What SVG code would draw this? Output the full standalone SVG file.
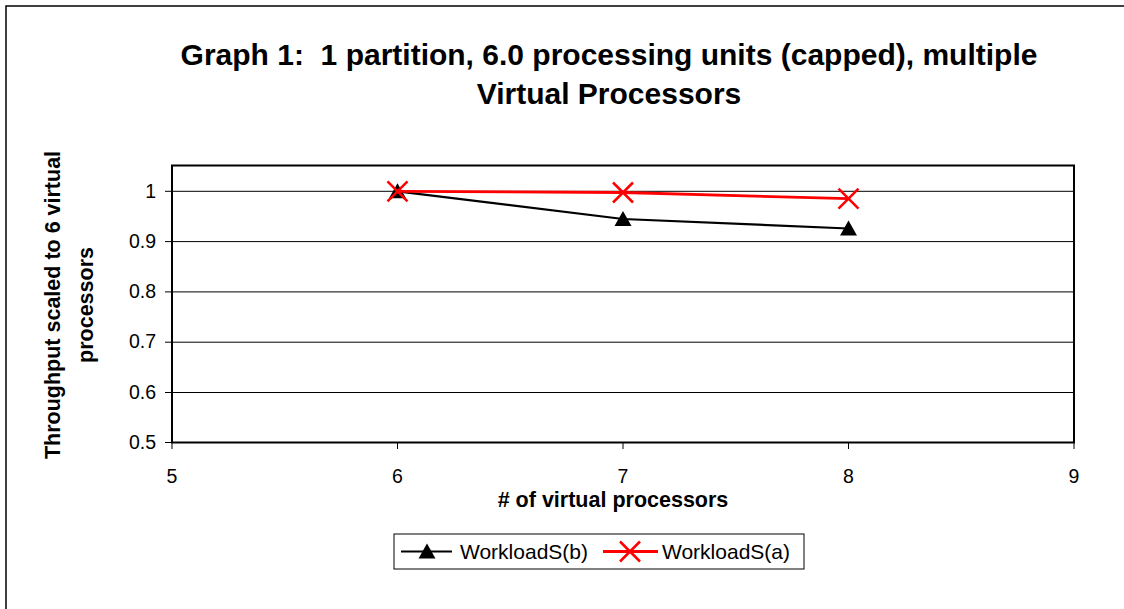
<svg xmlns="http://www.w3.org/2000/svg" width="1124" height="609" viewBox="0 0 1124 609">
<style>
text{font-family:"Liberation Sans",Arial,sans-serif;fill:#000}
.title{font-size:30px;font-weight:bold}
.axl{font-size:21.5px;font-weight:bold}
.tick{font-size:19.5px}
.leg{font-size:21px}
.grid{stroke:#000;stroke-width:1}
.blk{stroke:#000;stroke-width:2.2;fill:none}
.red{stroke:#ff0000;stroke-width:2.8;fill:none}
</style>
<defs>
<path id="tri" d="M0,-8 L8.5,7 L-8.5,7 Z" fill="#000"/>
<path id="xm" d="M-10,-10 L10,10 M-10,10 L10,-10" stroke="#ff0000" stroke-width="2.5" fill="none"/>
</defs>
<rect x="6" y="6" width="1130" height="620" fill="#fff" stroke="#000" stroke-width="1.5"/>
<g id="title">
<text class="title" x="609" y="65" text-anchor="middle" xml:space="preserve">Graph 1:  1 partition, 6.0 processing units (capped), multiple</text>
<text class="title" x="609" y="104" text-anchor="middle">Virtual Processors</text>
</g>
<g id="grid">
<line class="grid" x1="172" y1="191.3" x2="1074" y2="191.3"/>
<line class="grid" x1="172" y1="241.6" x2="1074" y2="241.6"/>
<line class="grid" x1="172" y1="291.9" x2="1074" y2="291.9"/>
<line class="grid" x1="172" y1="342.2" x2="1074" y2="342.2"/>
<line class="grid" x1="172" y1="392.5" x2="1074" y2="392.5"/>
</g>
<g id="axes">
<rect x="172" y="165.5" width="902" height="277" fill="none" stroke="#000" stroke-width="2"/>
<path d="M165,191.3H172M165,241.6H172M165,291.9H172M165,342.2H172M165,392.5H172M165,442.5H172" stroke="#000" stroke-width="1"/>
<path d="M172,442.5V449M397.5,442.5V449M623,442.5V449M848.5,442.5V449M1074,442.5V449" stroke="#000" stroke-width="1"/>
<g text-anchor="end">
<text class="tick" x="156" y="197.5">1</text>
<text class="tick" x="156" y="247.8">0.9</text>
<text class="tick" x="156" y="298.1">0.8</text>
<text class="tick" x="156" y="348.4">0.7</text>
<text class="tick" x="156" y="398.7">0.6</text>
<text class="tick" x="156" y="449">0.5</text>
</g>
<g text-anchor="middle">
<text class="tick" x="172" y="483">5</text>
<text class="tick" x="397.5" y="483">6</text>
<text class="tick" x="623" y="483">7</text>
<text class="tick" x="848.5" y="483">8</text>
<text class="tick" x="1074" y="483">9</text>
</g>
<text class="axl" x="613" y="507" text-anchor="middle"># of virtual processors</text>
<text class="axl" transform="translate(60,305) rotate(-90)" text-anchor="middle">Throughput scaled to 6 virtual</text>
<text class="axl" transform="translate(93,305) rotate(-90)" text-anchor="middle">processors</text>
</g>
<g id="series-b">
<polyline class="blk" points="397.5,191.3 623,219 848.5,228.5"/>
<use href="#tri" x="397.5" y="191.3"/>
<use href="#tri" x="623" y="219"/>
<use href="#tri" x="848.5" y="228.5"/>
</g>
<g id="series-a">
<polyline class="red" points="397.5,191.3 623,192.5 848.5,198.7"/>
<use href="#xm" x="397.5" y="191.3"/>
<use href="#xm" x="623" y="192.5"/>
<use href="#xm" x="848.5" y="198.7"/>
</g>
<g id="legend">
<rect x="394" y="534" width="410" height="35" fill="#fff" stroke="#000" stroke-width="1"/>
<line x1="401" y1="551.5" x2="452" y2="551.5" stroke="#000" stroke-width="2.2"/>
<use href="#tri" x="427" y="551.5"/>
<text class="leg" x="460" y="559">WorkloadS(b)</text>
<line x1="603" y1="551.5" x2="658" y2="551.5" stroke="#ff0000" stroke-width="2.8"/>
<use href="#xm" x="630" y="551.5"/>
<text class="leg" x="662" y="559">WorkloadS(a)</text>
</g>
</svg>
